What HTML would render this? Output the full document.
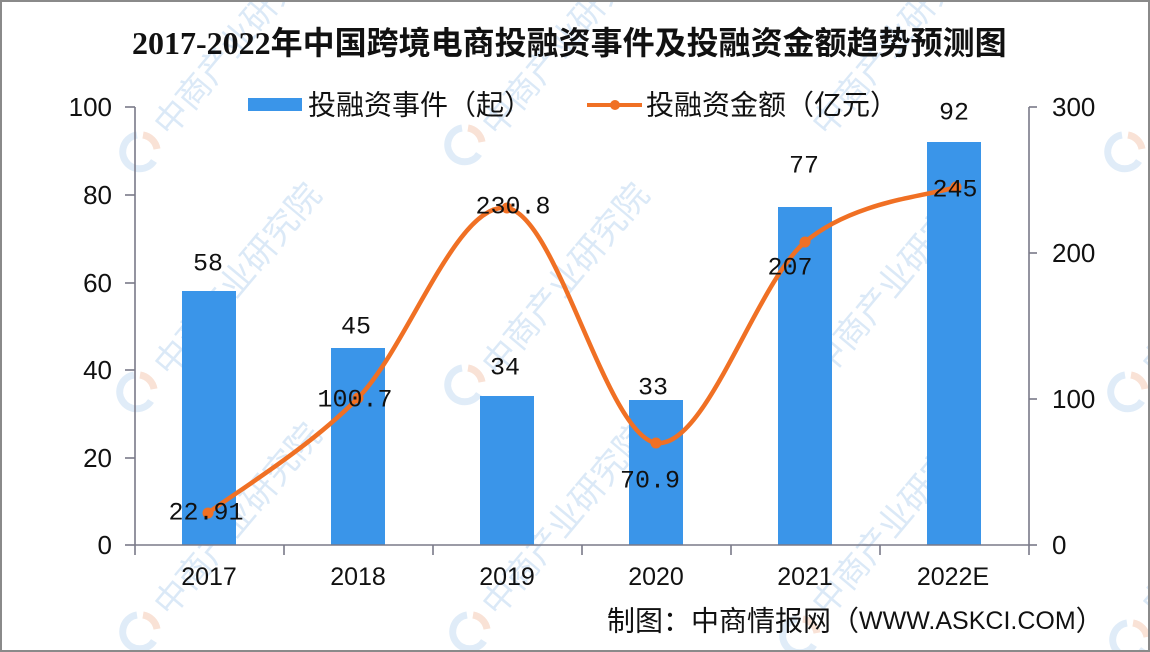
<!DOCTYPE html>
<html>
<head>
<meta charset="utf-8">
<style>
  html,body{margin:0;padding:0;background:#fff;}
  svg{display:block;}
</style>
</head>
<body>
<svg width="1150" height="652" viewBox="0 0 1150 652" xmlns="http://www.w3.org/2000/svg">
  <rect x="0" y="0" width="1150" height="652" fill="#ffffff"/>

  <!-- watermarks -->
  <g font-family="'Liberation Sans','Noto Sans CJK SC',sans-serif" font-size="34" fill="#dbe9f7">
    <g transform="translate(170,378) rotate(-50)"><text x="0" y="0">中商产业研究院</text></g>
    <g transform="translate(498,378) rotate(-50)"><text x="0" y="0">中商产业研究院</text></g>
    <g transform="translate(828,378) rotate(-50)"><text x="0" y="0">中商产业研究院</text></g>
    <g transform="translate(1158,378) rotate(-50)"><text x="0" y="0">中商产业研究院</text></g>
    <g transform="translate(-158,378) rotate(-50)"><text x="0" y="0">中商产业研究院</text></g>
    <g transform="translate(170,618) rotate(-50)"><text x="0" y="0">中商产业研究院</text></g>
    <g transform="translate(498,618) rotate(-50)"><text x="0" y="0">中商产业研究院</text></g>
    <g transform="translate(828,618) rotate(-50)"><text x="0" y="0">中商产业研究院</text></g>
    <g transform="translate(1158,618) rotate(-50)"><text x="0" y="0">中商产业研究院</text></g>
    <g transform="translate(-158,618) rotate(-50)"><text x="0" y="0">中商产业研究院</text></g>
    <g transform="translate(170,138) rotate(-50)"><text x="0" y="0">中商产业研究院</text></g>
    <g transform="translate(498,138) rotate(-50)"><text x="0" y="0">中商产业研究院</text></g>
    <g transform="translate(828,138) rotate(-50)"><text x="0" y="0">中商产业研究院</text></g>
    <g transform="translate(-158,138) rotate(-50)"><text x="0" y="0">中商产业研究院</text></g>
  </g>
  <g fill="none" stroke-width="7" opacity="0.75">
    <g transform="translate(140,152)"><path d="M3,-17 A17,17 0 0 1 17,-3" stroke="#f7d8c8"/><path d="M14,9 A17,17 0 1 1 -3,-17" stroke="#d6e6f6"/></g>
    <g transform="translate(465,145)"><path d="M3,-17 A17,17 0 0 1 17,-3" stroke="#f7d8c8"/><path d="M14,9 A17,17 0 1 1 -3,-17" stroke="#d6e6f6"/></g>
    <g transform="translate(1125,152)"><path d="M3,-17 A17,17 0 0 1 17,-3" stroke="#f7d8c8"/><path d="M14,9 A17,17 0 1 1 -3,-17" stroke="#d6e6f6"/></g>
    <g transform="translate(137,392)"><path d="M3,-17 A17,17 0 0 1 17,-3" stroke="#f7d8c8"/><path d="M14,9 A17,17 0 1 1 -3,-17" stroke="#d6e6f6"/></g>
    <g transform="translate(465,385)"><path d="M3,-17 A17,17 0 0 1 17,-3" stroke="#f7d8c8"/><path d="M14,9 A17,17 0 1 1 -3,-17" stroke="#d6e6f6"/></g>
    <g transform="translate(1128,392)"><path d="M3,-17 A17,17 0 0 1 17,-3" stroke="#f7d8c8"/><path d="M14,9 A17,17 0 1 1 -3,-17" stroke="#d6e6f6"/></g>
    <g transform="translate(140,632)"><path d="M3,-17 A17,17 0 0 1 17,-3" stroke="#f7d8c8"/><path d="M14,9 A17,17 0 1 1 -3,-17" stroke="#d6e6f6"/></g>
    <g transform="translate(470,632)"><path d="M3,-17 A17,17 0 0 1 17,-3" stroke="#f7d8c8"/><path d="M14,9 A17,17 0 1 1 -3,-17" stroke="#d6e6f6"/></g>
    <g transform="translate(800,636)"><path d="M3,-17 A17,17 0 0 1 17,-3" stroke="#f7d8c8"/><path d="M14,9 A17,17 0 1 1 -3,-17" stroke="#d6e6f6"/></g>
    <g transform="translate(1130,640)"><path d="M3,-17 A17,17 0 0 1 17,-3" stroke="#f7d8c8"/><path d="M14,9 A17,17 0 1 1 -3,-17" stroke="#d6e6f6"/></g>
  </g>

  <!-- title -->
  <text x="132" y="54" font-family="'Liberation Serif','Noto Sans CJK SC',serif" font-size="32" font-weight="bold" fill="#111">2017-2022年中国跨境电商投融资事件及投融资金额趋势预测图</text>

  <!-- legend -->
  <rect x="248" y="98" width="54" height="13" fill="#3a95e9"/>
  <text x="308" y="105" dominant-baseline="central" font-family="'Liberation Sans','Noto Sans CJK SC',sans-serif" font-size="28" fill="#111">投融资事件（起）</text>
  <line x1="587" y1="105" x2="642" y2="105" stroke="#f07024" stroke-width="4"/>
  <circle cx="615" cy="105" r="5" fill="#f07024"/>
  <text x="646" y="105" dominant-baseline="central" font-family="'Liberation Sans','Noto Sans CJK SC',sans-serif" font-size="28" fill="#111">投融资金额（亿元）</text>

  <!-- bars -->
  <g fill="#3a95e9">
    <rect x="182" y="291" width="54" height="254"/>
    <rect x="331" y="348" width="54" height="197"/>
    <rect x="480" y="396" width="54" height="149"/>
    <rect x="629" y="400" width="54" height="145"/>
    <rect x="778" y="207" width="54" height="338"/>
    <rect x="927" y="142" width="54" height="403"/>
  </g>

  <!-- axes -->
  <g stroke="#7a7a88" stroke-width="1.6" fill="none">
    <line x1="135" y1="107" x2="135" y2="545"/>
    <line x1="125" y1="107" x2="135" y2="107"/>
    <line x1="125" y1="195" x2="135" y2="195"/>
    <line x1="125" y1="283" x2="135" y2="283"/>
    <line x1="125" y1="370" x2="135" y2="370"/>
    <line x1="125" y1="458" x2="135" y2="458"/>
    <line x1="125" y1="545" x2="135" y2="545"/>
    <line x1="1029" y1="107" x2="1029" y2="545"/>
    <line x1="1029" y1="107" x2="1037" y2="107"/>
    <line x1="1029" y1="253" x2="1037" y2="253"/>
    <line x1="1029" y1="399" x2="1037" y2="399"/>
    <line x1="1029" y1="545" x2="1037" y2="545"/>
    <line x1="135" y1="545" x2="1029" y2="545"/>
    <line x1="135" y1="545" x2="135" y2="555"/>
    <line x1="284" y1="545" x2="284" y2="555"/>
    <line x1="433" y1="545" x2="433" y2="555"/>
    <line x1="582" y1="545" x2="582" y2="555"/>
    <line x1="731" y1="545" x2="731" y2="555"/>
    <line x1="880" y1="545" x2="880" y2="555"/>
    <line x1="1029" y1="545" x2="1029" y2="555"/>
  </g>

  <!-- left tick labels -->
  <g font-family="'Liberation Sans',sans-serif" font-size="26" fill="#111" text-anchor="end" dominant-baseline="central">
    <text x="112" y="107">100</text>
    <text x="112" y="195">80</text>
    <text x="112" y="283">60</text>
    <text x="112" y="370">40</text>
    <text x="112" y="458">20</text>
    <text x="112" y="545">0</text>
  </g>
  <!-- right tick labels -->
  <g font-family="'Liberation Sans',sans-serif" font-size="26" fill="#111" text-anchor="start" dominant-baseline="central">
    <text x="1052" y="107">300</text>
    <text x="1052" y="253">200</text>
    <text x="1052" y="399">100</text>
    <text x="1052" y="545">0</text>
  </g>
  <!-- x labels -->
  <g font-family="'Liberation Sans',sans-serif" font-size="25" fill="#111" text-anchor="middle" dominant-baseline="central">
    <text x="209" y="577">2017</text>
    <text x="358" y="577">2018</text>
    <text x="507" y="577">2019</text>
    <text x="656" y="577">2020</text>
    <text x="805" y="577">2021</text>
    <text x="953" y="577">2022E</text>
  </g>

  <!-- line -->
  <path d="M208,513 C233,494 308,449 358,398 C408,347 457,201 507,208 C557,215 606,435 656,443 C706,449 755,285 805,242 C855,200 930,196 956,187"
        fill="none" stroke="#f07024" stroke-width="4.5" stroke-linecap="round"/>
  <g fill="#f07024">
    <circle cx="208" cy="513" r="5.5"/>
    <circle cx="358" cy="398" r="5.5"/>
    <circle cx="507" cy="208" r="5.5"/>
    <circle cx="656" cy="443" r="5.5"/>
    <circle cx="805" cy="242" r="5.5"/>
    <circle cx="956" cy="187" r="5.5"/>
  </g>

  <!-- data labels -->
  <g font-family="'Liberation Mono',monospace" font-size="25" fill="#111" text-anchor="middle" dominant-baseline="central">
    <text x="208" y="264">58</text>
    <text x="356" y="327">45</text>
    <text x="505" y="368">34</text>
    <text x="653" y="388">33</text>
    <text x="804" y="166">77</text>
    <text x="954" y="113">92</text>
    <text x="206" y="513">22.91</text>
    <text x="355" y="400">100.7</text>
    <text x="513" y="207">230.8</text>
    <text x="650" y="481">70.9</text>
    <text x="790" y="268">207</text>
    <text x="955" y="190">245</text>
  </g>

  <!-- footer -->
  <text x="607" y="621" dominant-baseline="central" font-family="'Liberation Sans','Noto Sans CJK SC',sans-serif" font-size="28" fill="#111">制图：中商情报网（<tspan font-size="25">WWW.ASKCI.COM</tspan>）</text>

  <!-- border -->
  <rect x="1" y="1" width="1148" height="650" fill="none" stroke="#8a8a8a" stroke-width="2"/>
</svg>
</body>
</html>
